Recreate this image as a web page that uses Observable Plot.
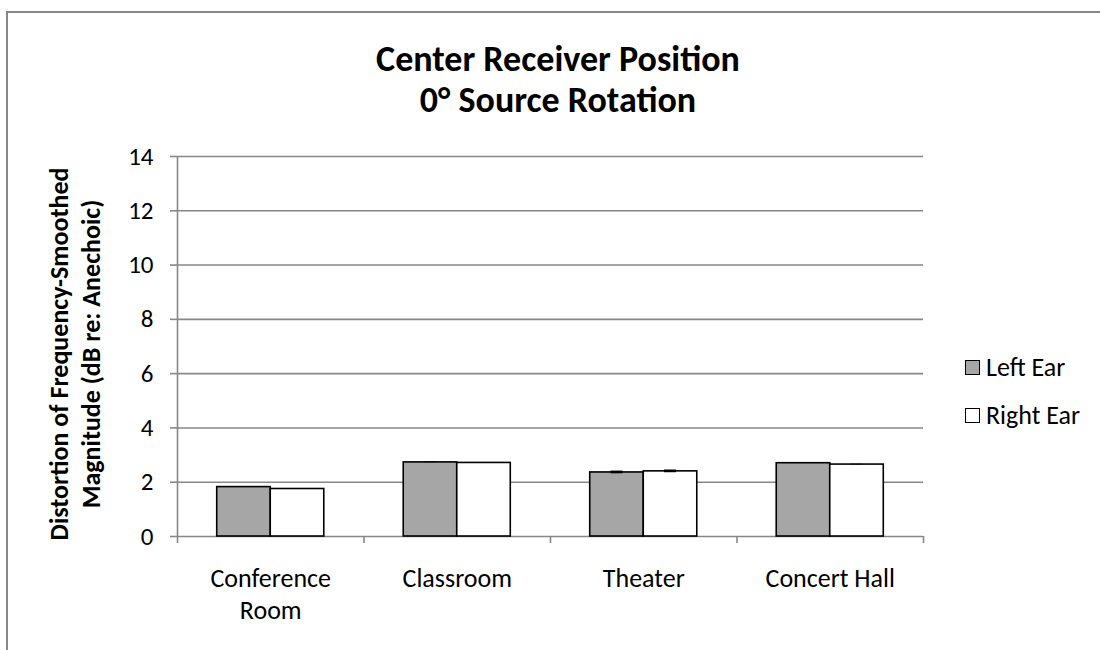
<!DOCTYPE html>
<html><head><meta charset="utf-8">
<script src="https://cdn.jsdelivr.net/npm/d3@7"></script>
<script src="https://cdn.jsdelivr.net/npm/@observablehq/plot@0.6"></script>
<style>
body{margin:0;background:#fff;}
#wrap{position:relative;width:1100px;height:650px;overflow:hidden;font-family:Carlito,Lato,sans-serif;color:#000;background:#fff;}
#frame{position:absolute;left:6px;top:11px;width:1200px;height:800px;border-left:2px solid #878787;border-top:2px solid #878787;}
#title{position:absolute;left:158px;top:39px;width:800px;text-align:center;font-weight:bold;font-size:36px;line-height:41px;}
#ytitle{position:absolute;left:-165px;top:322px;width:480px;height:64px;text-align:center;font-weight:bold;font-size:26px;line-height:32px;transform:rotate(-90deg);transform-origin:50% 50%;}
#chart{position:absolute;left:0;top:0;}
#legend{position:absolute;left:965px;top:352px;font-size:26px;}
.li{display:flex;align-items:center;height:30px;margin-bottom:18px;}
.sw{width:13px;height:13px;border:1.5px solid #000;margin-right:6px;}
</style>
</head><body>
<div id="wrap">
  <div id="frame"></div>
  <div id="chart"></div>
  <div id="title">Center Receiver Position<br>0° Source Rotation</div>
  <div id="ytitle"></div>
  <div id="legend"></div>
</div>
<script>
const rooms = ["Conference Room", "Classroom", "Theater", "Concert Hall"];
const series = ["Left Ear", "Right Ear"];
const leftEar = [1.82, 2.73, 2.36, 2.70];
const rightEar = [1.75, 2.71, 2.40, 2.65];
const leftErr = [0.01, 0.01, 0.05, 0.01];
const rightErr = [0.01, 0.01, 0.05, 0.01];
const yTicks = [0, 2, 4, 6, 8, 10, 12, 14];
const yTitle = ["Distortion of Frequency-Smoothed", "Magnitude (dB re: Anechoic)"];

const fills = {"Left Ear": "#a6a6a6", "Right Ear": "#ffffff"};
const gap = 0.213, bw = 0.287, cap = 0.032;

const rows = rooms.flatMap((room, i) => [
  {room, i, k: 0, series: series[0], value: leftEar[i], err: leftErr[i]},
  {room, i, k: 1, series: series[1], value: rightEar[i], err: rightErr[i]}
]);
const bx1 = d => d.i + gap + d.k * bw;
const bc = d => bx1(d) + bw / 2;

const plot = Plot.plot({
  width: 1100,
  height: 650,
  marginLeft: 177,
  marginRight: 177,
  marginTop: 156,
  marginBottom: 114,
  style: {fontFamily: "Carlito, Lato, sans-serif", fontSize: "26px", color: "#000", background: "transparent"},
  x: {domain: [0, rooms.length], axis: null},
  y: {domain: [0, 14], axis: null},
  marks: [
    Plot.ruleY(yTicks, {stroke: "#878787", strokeWidth: 1.6}),
    Plot.ruleX([0], {stroke: "#878787", strokeWidth: 1.6}),
    Plot.axisY({ticks: yTicks, tickSize: 7, tickPadding: 17, stroke: "#878787", strokeWidth: 1.6, label: null, fontSize: 25}),
    Plot.axisX({ticks: d3.range(0, rooms.length + 1), tickSize: 7, tickFormat: () => "", stroke: "#878787", strokeWidth: 1.6, label: null}),
    Plot.rect(rows, {x1: bx1, x2: d => bx1(d) + bw, y1: 0, y2: "value", fill: d => fills[d.series], stroke: "#000", strokeWidth: 1.6}),
    Plot.rect(rows, {x1: d => bc(d) - cap, x2: d => bc(d) + cap, y1: d => d.value - d.err, y2: d => d.value + d.err, fill: "#000"}),
    Plot.text(rooms, {x: (d, i) => i + 0.5, frameAnchor: "bottom", lineAnchor: "top", dy: 27, lineWidth: 6.5, lineHeight: 1.25, fontSize: 26, fill: "#000"})
  ]
});
document.getElementById("chart").appendChild(plot);

document.getElementById("ytitle").innerHTML = yTitle.join("<br>");

const legend = document.getElementById("legend");
series.forEach(s => {
  const row = document.createElement("div");
  row.className = "li";
  const sw = document.createElement("div");
  sw.className = "sw";
  sw.style.background = fills[s];
  const t = document.createElement("span");
  t.textContent = s;
  row.appendChild(sw);
  row.appendChild(t);
  legend.appendChild(row);
});
</script>
</body></html>
